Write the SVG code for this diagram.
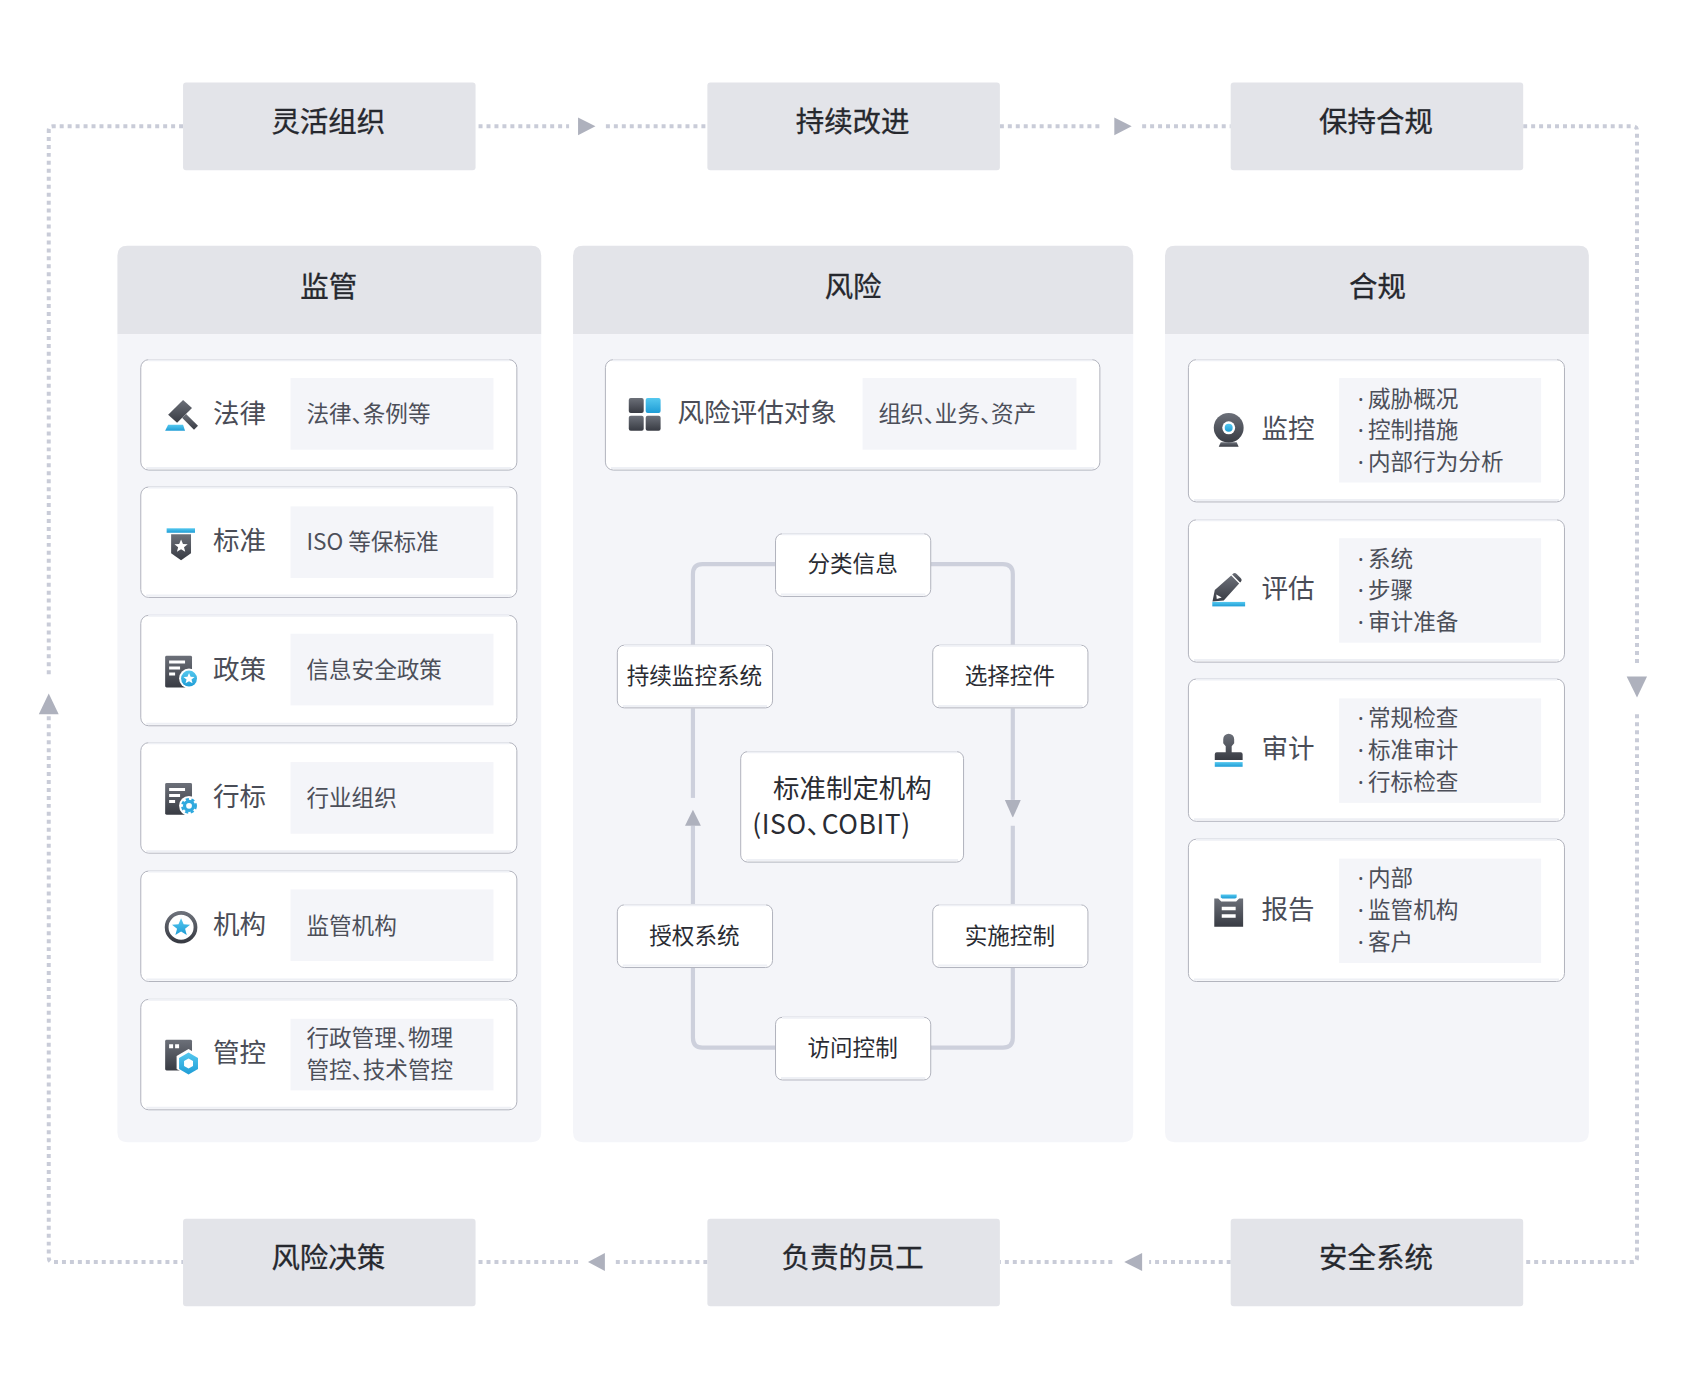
<svg xmlns="http://www.w3.org/2000/svg" width="1685" height="1389" viewBox="0 0 1685 1389">
<style>
text{font-family:"Noto Sans CJK SC","Noto Sans",sans-serif}
.h{font-size:28.6px;fill:#26282e;stroke:#26282e;stroke-width:.3px;text-anchor:middle}
.t{font-size:26.7px;fill:#4a4d57}
.i{font-size:22.7px;fill:#4c4f59}
.dt{font-family:"Noto Sans",sans-serif;font-size:22.7px}
.n{font-size:22.7px;fill:#2a2c33;text-anchor:middle}
.c{font-size:26.6px;fill:#2a2c33}
.s{letter-spacing:.6px}
.p{letter-spacing:-11.500px}
.gray{fill:#e3e4e9}
.panel{fill:#f4f5f9}
.card{fill:#fff;stroke:#b0b2bc;stroke-width:1}
.top{stroke:#eef0f5;stroke-width:2;fill:none}
.dot{fill:none;stroke:#c9ccd8;stroke-width:4;stroke-dasharray:4 4}
.solid{fill:none;stroke:#cdd0dc;stroke-width:4.2}
.arr{fill:#aeb1bd}
.d{fill:url(#dk)}
.b{fill:url(#bl)}
</style>
<defs>
<linearGradient id="dk" x1="0" y1="0" x2="0" y2="1"><stop offset="0" stop-color="#6c7079"/><stop offset="1" stop-color="#383b43"/></linearGradient>
<linearGradient id="bl" x1="0" y1="0" x2="0" y2="1"><stop offset="0" stop-color="#55c8ef"/><stop offset="1" stop-color="#1f9dd6"/></linearGradient>
<path id="star" d="M0 -7 L2 -2.300 L7 -2 L3.100 1.200 L4.400 6 L0 3.300 L-4.400 6 L-3.100 1.200 L-7 -2 L-2 -2.300Z"/>
<g id="docbase"><rect x="-16" y="-16" width="27" height="32" rx="1.500" class="d"/><path d="M-12 -11h16v3h-16zM-12 -5h11v3h-11zM-12 1h6v3h-6z" fill="#fff"/></g>
</defs>
<rect width="1685" height="1389" fill="#fff"/>
<g transform="scale(.9949)">
<g id="connectors">
<path class="dot" d="M184 127H53Q49 127 49 131V680"/>
<path class="dot" d="M49 720V1264Q49 1268.500 53 1268.500H184"/>
<path class="dot" d="M481 127H572"/><path class="dot" d="M609 127H711"/>
<path class="dot" d="M1005 127H1109"/><path class="dot" d="M1148 127H1237"/>
<path class="dot" d="M1531 127H1641Q1645.400 127 1645.400 131V668"/>
<path class="dot" d="M1645.400 718V1264Q1645.400 1268.500 1641 1268.500H1531"/>
<path class="dot" d="M1237 1268.500H1155"/><path class="dot" d="M1118 1268.500H1005"/>
<path class="dot" d="M711 1268.500H615"/><path class="dot" d="M581 1268.500H478"/>
<path class="arr" d="M581 118L598.500 127L581 136Z"/>
<path class="arr" d="M1120 118L1137.500 127L1120 136Z"/>
<path class="arr" d="M1635 680H1655.500L1645.400 701Z"/>
<path class="arr" d="M49 697L59 718H39Z"/>
<path class="arr" d="M1148 1259.500V1277.500L1130 1268.500Z"/>
<path class="arr" d="M608 1259.500V1277.500L591 1268.500Z"/>
</g>
<g id="panel-supervision"><path class="gray" d="M118 336V257Q118 247 128 247H534Q544 247 544 257V336Z"/><path class="panel" d="M118 336H544V1138Q544 1148 534 1148H128Q118 1148 118 1138Z"/><text class="h" x="330.500" y="298.500">监管</text></g>
<g id="panel-risk"><path class="gray" d="M576 336V257Q576 247 586 247H1129Q1139 247 1139 257V336Z"/><path class="panel" d="M576 336H1139V1138Q1139 1148 1129 1148H586Q576 1148 576 1138Z"/><text class="h" x="857.500" y="298.500">风险</text></g>
<g id="panel-compliance"><path class="gray" d="M1171 336V257Q1171 247 1181 247H1587Q1597 247 1597 257V336Z"/><path class="panel" d="M1171 336H1597V1138Q1597 1148 1587 1148H1181Q1171 1148 1171 1138Z"/><text class="h" x="1384.500" y="298.500">合规</text></g>
<g id="cycle-lines">
<path class="solid" d="M779 567H706Q696.500 567 696.500 577V648"/>
<path class="solid" d="M696.500 712V802"/>
<path class="solid" d="M696.500 830V909"/>
<path class="solid" d="M696.500 973V1043Q696.500 1053 706 1053H779"/>
<path class="solid" d="M935 567H1008Q1018 567 1018 577V648"/>
<path class="solid" d="M1018 712V804"/>
<path class="solid" d="M1018 830V909"/>
<path class="solid" d="M1018 973V1043Q1018 1053 1008 1053H935"/>
<path class="arr" d="M688.500 830L696.500 814L704.500 830Z"/>
<path class="arr" d="M1010 804H1026L1018.500 821Q1018 822 1017.500 821Z"/>
</g>
<g id="n-flex"><rect class="gray" x="184" y="83" width="294" height="88" rx="3"/><text class="h" x="330" y="132.500">灵活组织</text></g>
<g id="n-improve"><rect class="gray" x="711" y="83" width="294" height="88" rx="3"/><text class="h" x="857" y="132.500">持续改进</text></g>
<g id="n-keep"><rect class="gray" x="1237" y="83" width="294" height="88" rx="3"/><text class="h" x="1383" y="132.500">保持合规</text></g>
<g id="n-decision"><rect class="gray" x="184" y="1225" width="294" height="88" rx="3"/><text class="h" x="330" y="1274.500">风险决策</text></g>
<g id="n-staff"><rect class="gray" x="711" y="1225" width="294" height="88" rx="3"/><text class="h" x="857" y="1274.500">负责的员工</text></g>
<g id="n-security"><rect class="gray" x="1237" y="1225" width="294" height="88" rx="3"/><text class="h" x="1383" y="1274.500">安全系统</text></g>

<g id="c-law"><rect class="card" x="141.500" y="361.500" width="378" height="111" rx="8"/><path class="top" d="M149 362H512M147 470.500H514"/><rect class="panel" x="292" y="380" width="204" height="72"/>
<g transform="translate(182,418)"><path class="d" d="M-13 -1L2 -16L11 -8L-4 7Z"/><path class="d" d="M1 2L5 -2L17 10L13 14Z"/><path class="b" d="M-13 9H2L4 15H-16Z"/></g>
<text class="t" x="214" y="425">法律</text><text class="i" x="308" y="424">法律<tspan class="p">、</tspan>条例等</text></g>
<g id="c-standard"><rect class="card" x="141.500" y="489.500" width="378" height="111" rx="8"/><path class="top" d="M149 490H512M147 598.500H514"/><rect class="panel" x="292" y="509" width="204" height="72"/>
<g transform="translate(182,546)"><rect class="b" x="-14.500" y="-15" width="28.500" height="4.500"/><path class="d" d="M-10 -9H10V10L0 17L-10 10Z"/><use href="#star" fill="#fff" transform="translate(0,3) scale(.95)"/></g>
<text class="t" x="214" y="553">标准</text><text class="i" x="308" y="553">ISO 等保标准</text></g>
<g id="c-policy"><rect class="card" x="141.500" y="618.500" width="378" height="111" rx="8"/><path class="top" d="M149 619H512M147 727.500H514"/><rect class="panel" x="292" y="637" width="204" height="72"/>
<g transform="translate(182,675)"><use href="#docbase"/><circle cx="8" cy="7" r="10" fill="#fff"/><circle class="b" cx="8" cy="7" r="8"/><use href="#star" fill="#fff" transform="translate(8,7) scale(.8)"/></g>
<text class="t" x="214" y="682">政策</text><text class="i" x="308" y="681">信息安全政策</text></g>
<g id="c-industry"><rect class="card" x="141.500" y="746.500" width="378" height="111" rx="8"/><path class="top" d="M149 747H512M147 855.500H514"/><rect class="panel" x="292" y="766" width="204" height="72"/>
<g transform="translate(182,803)"><use href="#docbase"/><circle cx="8" cy="7" r="10" fill="#fff"/><circle cx="8" cy="7" r="4.500" fill="none" stroke="#2fa9de" stroke-width="3.200"/><circle cx="8" cy="7" r="6.800" fill="none" stroke="#2fa9de" stroke-width="2.400" stroke-dasharray="3.200 2.500"/></g>
<text class="t" x="214" y="810">行标</text><text class="i" x="308" y="810">行业组织</text></g>
<g id="c-org"><rect class="card" x="141.500" y="875.500" width="378" height="111" rx="8"/><path class="top" d="M149 876H512M147 984.500H514"/><rect class="panel" x="292" y="894" width="204" height="72"/>
<g transform="translate(182,932)"><circle cx="0" cy="0" r="14.500" fill="none" stroke="url(#dk)" stroke-width="3.800"/><use href="#star" class="b" transform="scale(1.3)"/></g>
<text class="t" x="214" y="939">机构</text><text class="i" x="308" y="939">监管机构</text></g>
<g id="c-control"><rect class="card" x="141.500" y="1004.500" width="378" height="111" rx="8"/><path class="top" d="M149 1005H512M147 1113.500H514"/><rect class="panel" x="292" y="1024" width="204" height="72"/>
<g transform="translate(182,1060)"><rect class="d" x="-16" y="-15" width="27" height="31" rx="1.500"/><path d="M-12 -10.500h4v4h-4zM-6 -10.500h4v4h-4z" fill="#fff"/><path d="M7 -4L19 3V16L7 23L-5 16V3Z" fill="#fff" transform="translate(.5,-1.500)"/><path class="b" d="M7.500 -2L17 3.500V14.500L7.500 20L-2 14.500V3.500Z"/><path d="M7.500 4L12 6.500V11.500L7.500 14L3 11.500V6.500Z" fill="#fff"/></g>
<text class="t" x="214" y="1067">管控</text><text class="i" x="308" y="1051">行政管理<tspan class="p">、</tspan>物理</text><text class="i" x="308" y="1084">管控<tspan class="p">、</tspan>技术管控</text></g>

<g id="c-target"><rect class="card" x="608.500" y="361.500" width="497" height="111" rx="8"/><path class="top" d="M616 362H1098M614 470.500H1100"/><rect class="panel" x="867" y="380" width="215" height="72"/>
<g><rect class="d" x="632" y="400" width="15" height="15" rx="2"/><rect class="b" x="649" y="400" width="15" height="15" rx="2"/><rect class="d" x="632" y="418" width="15" height="15" rx="2"/><rect class="d" x="649" y="418" width="15" height="15" rx="2"/></g>
<text class="t" x="681" y="424">风险评估对象</text><text class="i" x="883" y="424">组织<tspan class="p">、</tspan>业务<tspan class="p">、</tspan>资产</text></g>

<g id="n-classify"><rect class="card" x="779.500" y="536.500" width="156" height="63" rx="7"/><path class="top" d="M786 537H929M785 597.500H930"/><text class="n" x="857" y="575">分类信息</text></g>
<g id="n-monitor"><rect class="card" x="620.500" y="648.500" width="156" height="63" rx="7"/><path class="top" d="M627 649H770M626 709.500H771"/><text class="n" x="698" y="688">持续监控系统</text></g>
<g id="n-select"><rect class="card" x="937.500" y="648.500" width="156" height="63" rx="7"/><path class="top" d="M944 649H1087M943 709.500H1088"/><text class="n" x="1015" y="688">选择控件</text></g>
<g id="n-center"><rect class="card" x="744.500" y="755.500" width="224" height="111" rx="7"/><path class="top" d="M751 756H962M750 864.500H963"/><text class="c" x="777" y="802">标准制定机构</text><text class="c s" x="756" y="838">(ISO<tspan class="p">、</tspan>COBIT)</text></g>
<g id="n-auth"><rect class="card" x="620.500" y="909.500" width="156" height="63" rx="7"/><path class="top" d="M627 910H770M626 970.500H771"/><text class="n" x="698" y="949">授权系统</text></g>
<g id="n-impl"><rect class="card" x="937.500" y="909.500" width="156" height="63" rx="7"/><path class="top" d="M944 910H1087M943 970.500H1088"/><text class="n" x="1015" y="949">实施控制</text></g>
<g id="n-access"><rect class="card" x="779.500" y="1022.500" width="156" height="63" rx="7"/><path class="top" d="M786 1023H929M785 1083.500H930"/><text class="n" x="857" y="1061">访问控制</text></g>

<g id="c-monitoring"><rect class="card" x="1194.500" y="361.500" width="378" height="143" rx="8"/><path class="top" d="M1202 362H1565M1200 502.500H1567"/><rect class="panel" x="1346" y="380" width="203" height="105"/>
<g transform="translate(1235,432)"><circle class="d" cx="0" cy="-2" r="15"/><circle cx="0" cy="-2" r="6.500" fill="#fff"/><circle class="b" cx="0" cy="-2" r="4"/><path class="d" d="M-8 12.500H8L10 17H-10Z"/></g>
<text class="t" x="1268" y="440">监控</text>
<text class="i"><tspan class="dt" x="1364.700" y="409">·</tspan><tspan x="1375" y="409">威胁概况</tspan></text>
<text class="i"><tspan class="dt" x="1364.700" y="440">·</tspan><tspan x="1375" y="440">控制措施</tspan></text>
<text class="i"><tspan class="dt" x="1364.700" y="472">·</tspan><tspan x="1375" y="472">内部行为分析</tspan></text></g>
<g id="c-assess"><rect class="card" x="1194.500" y="522.500" width="378" height="143" rx="8"/><path class="top" d="M1202 523H1565M1200 663.500H1567"/><rect class="panel" x="1346" y="541" width="203" height="105"/>
<g transform="translate(1235,592)"><path class="d" fill-rule="evenodd" d="M-16.300 12.700L-14 1L2.500 -13.500L10.500 -5.500L-5 11.700ZM-12.500 5.500L-12 10L-7 8.500Z"/><path class="d" d="M4 -15Q6 -17 8 -15L12 -11Q14 -9 12 -7L11.500 -6.500L3.500 -14.500Z"/><rect class="b" x="-16.500" y="13" width="33" height="4.500"/></g>
<text class="t" x="1268" y="601">评估</text>
<text class="i"><tspan class="dt" x="1364.700" y="570">·</tspan><tspan x="1375" y="570">系统</tspan></text>
<text class="i"><tspan class="dt" x="1364.700" y="601">·</tspan><tspan x="1375" y="601">步骤</tspan></text>
<text class="i"><tspan class="dt" x="1364.700" y="633">·</tspan><tspan x="1375" y="633">审计准备</tspan></text></g>
<g id="c-audit"><rect class="card" x="1194.500" y="682.500" width="378" height="143" rx="8"/><path class="top" d="M1202 683H1565M1200 823.500H1567"/><rect class="panel" x="1346" y="702" width="203" height="105"/>
<g transform="translate(1235,753)"><path class="d" d="M-5.500 -10A5.500 5.500 0 0 1 5.500 -10V-6L3 -3V3H12Q14 3 14 5V11H-14V5Q-14 3 -12 3H-3V-3L-5.500 -6Z"/><rect class="b" x="-14" y="13" width="28" height="4.700"/></g>
<text class="t" x="1268" y="762">审计</text>
<text class="i"><tspan class="dt" x="1364.700" y="730">·</tspan><tspan x="1375" y="730">常规检查</tspan></text>
<text class="i"><tspan class="dt" x="1364.700" y="762">·</tspan><tspan x="1375" y="762">标准审计</tspan></text>
<text class="i"><tspan class="dt" x="1364.700" y="794">·</tspan><tspan x="1375" y="794">行标检查</tspan></text></g>
<g id="c-report"><rect class="card" x="1194.500" y="843.500" width="378" height="143" rx="8"/><path class="top" d="M1202 844H1565M1200 984.500H1567"/><rect class="panel" x="1346" y="863" width="203" height="105"/>
<g transform="translate(1235,915)"><path class="d" d="M-14.500 -12H-10.500L-7.500 -9H7.500L10.500 -12H14.500V16.500H-14.500Z"/><path d="M-7 -3.500H7V0H-7ZM-7 4H7V7.500H-7Z" fill="#fff"/><path class="b" d="M-8 -16H8V-13L6.500 -12H-6.500L-8 -13Z"/></g>
<text class="t" x="1268" y="924">报告</text>
<text class="i"><tspan class="dt" x="1364.700" y="891">·</tspan><tspan x="1375" y="891">内部</tspan></text>
<text class="i"><tspan class="dt" x="1364.700" y="923">·</tspan><tspan x="1375" y="923">监管机构</tspan></text>
<text class="i"><tspan class="dt" x="1364.700" y="955">·</tspan><tspan x="1375" y="955">客户</tspan></text></g>
</g>
</svg>
